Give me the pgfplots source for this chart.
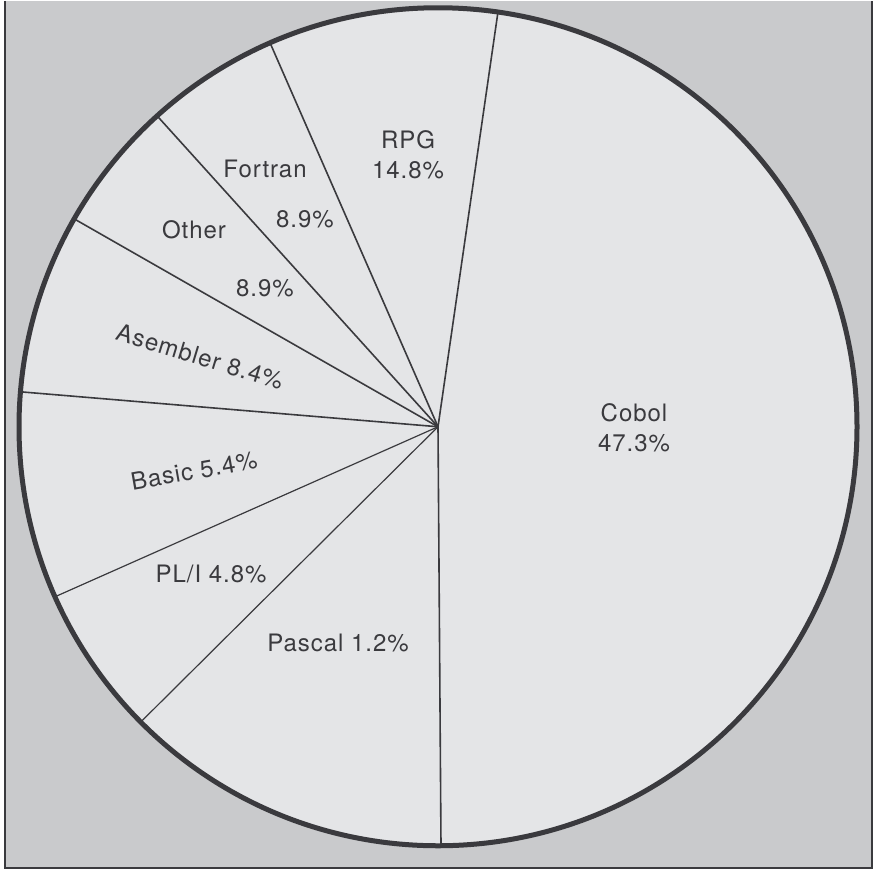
\documentclass[border=0pt]{standalone}
\usepackage{pgfplots}
\pgfplotsset{compat=1.18}
\usepackage{fontspec}
\setmainfont{TeX Gyre Heros}[LetterSpace=4]
\definecolor{bggray}{HTML}{C9CACC}
\definecolor{piefill}{HTML}{E4E5E7}
\definecolor{ink}{HTML}{3A3A3E}
\begin{document}
\begin{tikzpicture}
\begin{axis}[
  scale only axis, width=885pt, height=870pt,
  xmin=0, xmax=885, ymin=0, ymax=870, y dir=reverse,
  axis lines=none, clip=false,
]
% background panel and frame
\fill[white] (axis cs:0,0) rectangle (axis cs:885,870);
\fill[bggray] (axis cs:5,0) rectangle (axis cs:872,867);
\draw[ink, line width=1.5pt] (axis cs:5,0) -- (axis cs:5,867) -- (axis cs:872,867) -- (axis cs:872,0);
% pie disc
\fill[piefill] (axis cs:438,426) circle[radius=419pt];
% slice boundaries (centre to rim)
\addplot[ink, line width=1.6pt] coordinates {(438,426) (441,845)}; % Cobol | Pascal
\addplot[ink, line width=1.6pt] coordinates {(438,426) (498,11)};  % Cobol | RPG
\addplot[ink, line width=1.6pt] coordinates {(438,426) (270,42)};  % RPG | Fortran
\addplot[ink, line width=1.6pt] coordinates {(438,426) (157,115)}; % Fortran | Other
\addplot[ink, line width=1.6pt] coordinates {(438,426) (74,218)};  % Other | Asembler
\addplot[ink, line width=1.6pt] coordinates {(438,426) (20,391)};  % Asembler | Basic
\addplot[ink, line width=1.2pt] coordinates {(438,426) (55,596)};  % Basic | PL/I
\addplot[ink, line width=1.2pt] coordinates {(438,426) (141,721)}; % PL/I | Pascal
\draw[ink, line width=5pt] (axis cs:438,426) circle[radius=419pt];
% labels
\begin{scope}[every node/.style={text=ink, font=\fontsize{24}{30}\selectfont, align=center, inner sep=0pt}]
\node at (axis cs:634,427) {Cobol\\47.3\%};
\node at (axis cs:408,154) {RPG\\14.8\%};
\node at (axis cs:265,168) {Fortran};
\node at (axis cs:305,218) {8.9\%};
\node at (axis cs:194,229) {Other};
\node at (axis cs:265,287) {8.9\%};
\node[rotate=-17] at (axis cs:200,356) {Asembler 8.4\%};
\node[rotate=10] at (axis cs:194,470) {Basic 5.4\%};
\node at (axis cs:211,573) {PL/I 4.8\%};
\node at (axis cs:338,642) {Pascal 1.2\%};
\end{scope}
\end{axis}
\end{tikzpicture}
\end{document}
